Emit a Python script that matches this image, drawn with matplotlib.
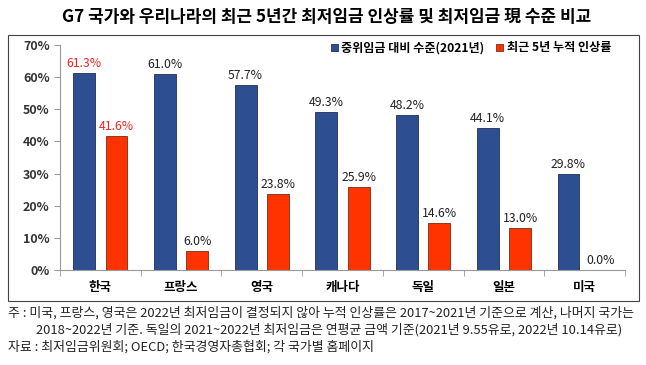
import matplotlib.pyplot as plt
from matplotlib.patches import Rectangle
import numpy as np

plt.rcParams['font.family'] = ['Noto Sans CJK KR', 'DejaVu Sans']

countries = ["한국", "프랑스", "영국", "캐나다", "독일", "일본", "미국"]
median_ratio = [61.3, 61.0, 57.7, 49.3, 48.2, 44.1, 29.8]
increase_5y = [41.6, 6.0, 23.8, 25.9, 14.6, 13.0, 0.0]
yticks = [0, 10, 20, 30, 40, 50, 60, 70]

blue = "#2E4E92"
red = "#FF3300"

fig = plt.figure(figsize=(6.46, 3.65), dpi=100)
ax = fig.add_axes([60 / 646, 1 - 270 / 365, 565 / 646, 225 / 365])

x = np.arange(len(countries))
w = 0.27
off = 0.2
ax.bar(x - off, median_ratio, w, color=blue, edgecolor="#1f2f55", linewidth=0.6,
       label="중위임금 대비 수준(2021년)")
ax.bar(x + off, increase_5y, w, color=red, edgecolor="#7a2a10", linewidth=0.6,
       label="최근 5년 누적 인상률")

for i in range(len(countries)):
    c = "#FF2020" if i == 0 else "#222222"
    ax.text(x[i] - off, median_ratio[i] + 0.9, f"{median_ratio[i]:.1f}%", ha="center",
            va="bottom", fontsize=8.8, color=c)
    ax.text(x[i] + off, increase_5y[i] + 0.9, f"{increase_5y[i]:.1f}%", ha="center",
            va="bottom", fontsize=8.8, color=c)

ax.set_ylim(0, 70)
ax.set_xlim(-0.5, 6.5)
ax.set_yticks(yticks)
ax.set_yticklabels([f"{v}%" for v in yticks], fontsize=9, fontweight="bold", color="#333333")
ax.set_xticks(x)
ax.set_xticklabels(countries, fontsize=9, fontweight="bold")
ax.set_xticks(np.arange(-0.5, 7, 1), minor=True)
ax.tick_params(axis="x", which="major", length=0, pad=8)
ax.tick_params(axis="x", which="minor", length=4, color="#999999")
ax.tick_params(axis="y", length=4, color="#999999")
for s in ["top", "right"]:
    ax.spines[s].set_visible(False)
ax.spines["left"].set_color("#999999")
ax.spines["bottom"].set_color("#999999")

ax.legend(loc="center right", bbox_to_anchor=(622 / 646, 1 - 48 / 365),
          bbox_transform=fig.transFigure, ncol=2, frameon=False,
          handlelength=0.55, handleheight=0.55, columnspacing=1.0,
          handletextpad=0.3, prop={"weight": "bold", "size": 8.7})

fig.patches.append(Rectangle((8 / 646, 1 - 301 / 365), 631 / 646, 266 / 365,
                             transform=fig.transFigure, fill=False,
                             edgecolor="#444444", linewidth=0.8))

fig.text(0.505, 1 - 17 / 365, "G7 국가와 우리나라의 최근 5년간 최저임금 인상률 및 최저임금 現 수준 비교",
         ha="center", va="center", fontsize=12.2, fontweight="bold")

fig.text(8 / 646, 1 - 313 / 365,
         "주 : 미국, 프랑스, 영국은 2022년 최저임금이 결정되지 않아 누적 인상률은 2017~2021년 기준으로 계산, 나머지 국가는",
         ha="left", va="center", fontsize=9.3, color="#222222")
fig.text(36 / 646, 1 - 330 / 365,
         "2018~2022년 기준. 독일의 2021~2022년 최저임금은 연평균 금액 기준(2021년 9.55유로, 2022년 10.14유로)",
         ha="left", va="center", fontsize=9.3, color="#222222")
fig.text(8 / 646, 1 - 347 / 365,
         "자료 : 최저임금위원회; OECD; 한국경영자총협회; 각 국가별 홈페이지",
         ha="left", va="center", fontsize=9.3, color="#222222")

plt.savefig("out.png", dpi=100)
